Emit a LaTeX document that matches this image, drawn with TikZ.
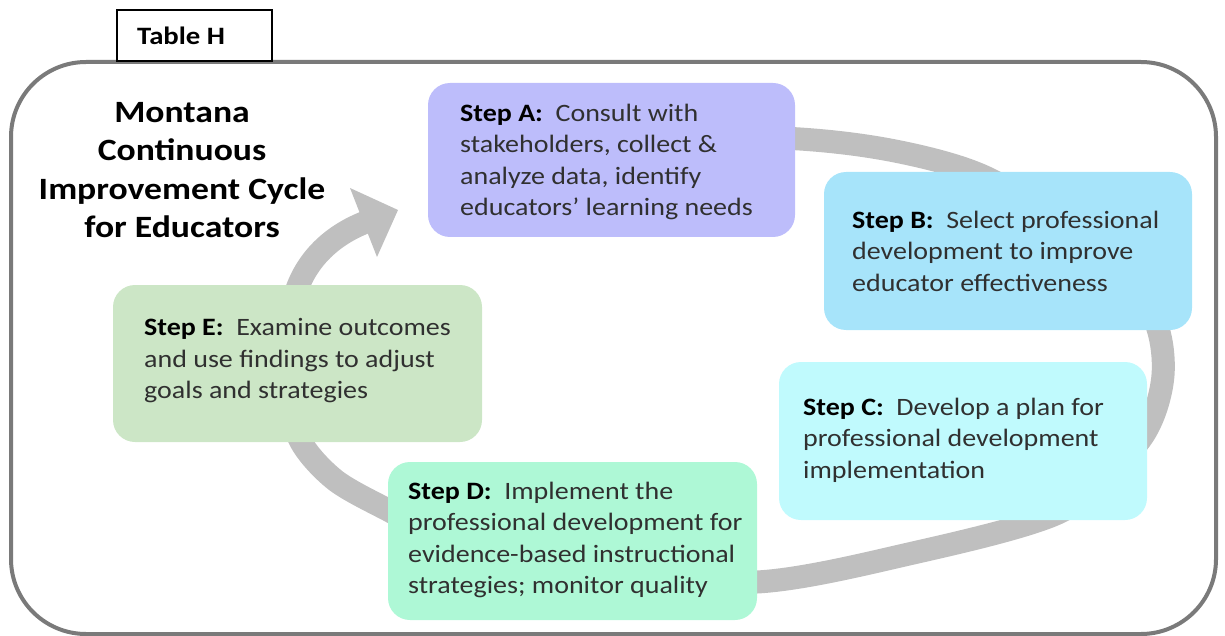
\documentclass[tikz,border=0pt]{standalone}
\usepackage{fontspec}
\setmainfont[FakeStretch=1.12]{Carlito}
\newfontfamily\titlefont[FakeStretch=1.15]{Carlito}
\definecolor{framec}{HTML}{7A7A7A}
\definecolor{bandc}{HTML}{BFBFBF}
\definecolor{fillA}{HTML}{BDBDFB}
\definecolor{fillB}{HTML}{A7E4FA}
\definecolor{fillC}{HTML}{C0FAFD}
\definecolor{fillD}{HTML}{AEF8D6}
\definecolor{fillE}{HTML}{CCE6C6}
\definecolor{txt}{HTML}{303030}
\begin{document}
\begin{tikzpicture}[x=1pt,y=-1pt,
  stepbox/.style={rounded corners=22pt, draw=none},
  steptext/.style={anchor=west, align=left, font=\fontsize{25}{31.5}\selectfont, text=txt, inner sep=0pt},
  band/.style={draw=bandc, line width=23pt},
  lab/.style={text=black}
]
\useasboundingbox (0,0) rectangle (1225,636);
% outer frame
\draw[framec, line width=4pt, rounded corners=75pt] (11,62) rectangle (1216,634);
% cycle band
\draw[band] plot[smooth, tension=0.5] coordinates {(600,132) (800,139) (900,152) (985,177) (1080,235) (1150,310) (1163,375) (1140,440) (1060,512) (900,556) (757,582) (600,572) (450,540) (388,510) (335,480) (300,440) (285,380) (290,320)};
\coordinate (shaftstart) at (290,320);
\coordinate (shaftend) at (366,222);
\draw[band] (shaftstart) .. controls (295,270) and (325,238) .. (shaftend);
\fill[bandc] (350,188) -- (398,210) -- (377,257) -- cycle;
% boxes
\fill[fillA, stepbox] (428,83) rectangle (795,237);
\fill[fillB, stepbox] (824,172) rectangle (1192,330);
\fill[fillC, stepbox] (779,362) rectangle (1147,520);
\fill[fillD, stepbox] (388,462) rectangle (757,620);
\fill[fillE, stepbox] (113,285) rectangle (482,442);
\node[steptext] (tA) at (460,162) {\textbf{\color{black}Step A:}\ \ Consult with\\stakeholders, collect \&\\analyze data, identify\\educators’ learning needs};
\node[steptext] (tB) at (852,251) {\textbf{\color{black}Step B:}\ \ Select professional\\development to improve\\educator effectiveness};
\node[steptext] (tC) at (803,440) {\textbf{\color{black}Step C:}\ \ Develop a plan for\\professional development\\implementation};
\node[steptext] (tD) at (408,540) {\textbf{\color{black}Step D:}\ \ Implement the\\professional development for\\evidence-based instructional\\strategies; monitor quality};
\node[steptext] (tE) at (144,361) {\textbf{\color{black}Step E:}\ \ Examine outcomes\\and use findings to adjust\\goals and strategies};
% title
\node[align=center, font=\titlefont\fontsize{31}{38.5}\selectfont\bfseries, text=black, inner sep=0pt] (title) at (182,170) {Montana\\Continuous\\Improvement Cycle\\for Educators};
% Table H
\draw[black, line width=1.5pt, fill=white] (117,10) rectangle (272,61);
\node[anchor=west, font=\titlefont\fontsize{25}{30}\selectfont\bfseries, inner sep=0pt] (tableh) at (137,36) {Table H};
\end{tikzpicture}
\end{document}
